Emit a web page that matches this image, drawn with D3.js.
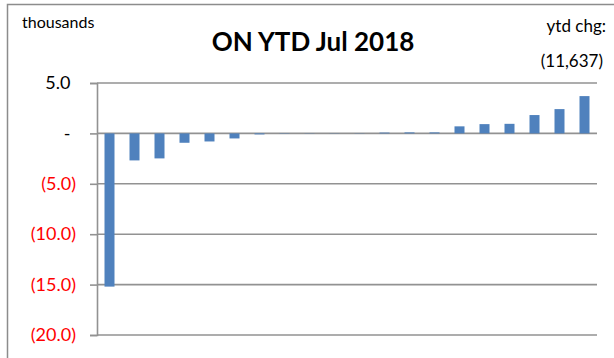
<!DOCTYPE html>
<html>
<head>
<meta charset="utf-8">
<script src="https://cdn.jsdelivr.net/npm/d3@7"></script>
<style>
  html, body { margin: 0; padding: 0; background: #fff; }
  svg { display: block; }
  text { font-family: Lato, "Open Sans", sans-serif; }
</style>
</head>
<body>
<svg id="chart" width="614" height="358"></svg>
<script>
// ---- data ----
const categories = ["c1","c2","c3","c4","c5","c6","c7","c8","c9","c10",
                    "c11","c12","c13","c14","c15","c16","c17","c18","c19","c20"];
const values = [-15.2, -2.68, -2.48, -0.93, -0.80, -0.50, -0.10, -0.03, -0.02, -0.02,
                 0.02, 0.08, 0.10, 0.10, 0.70, 0.92, 0.95, 1.82, 2.41, 3.70];
const yTicks = [5, 0, -5, -10, -15, -20];
const titleText = "ON YTD Jul 2018";
const unitText = "thousands";
const ytdLabel = "ytd chg:";
const ytdValue = "(11,637)";

// ---- layout ----
const svg = d3.select("#chart");
const plot = { left: 97, right: 597, top: 83, bottom: 335 };

// outer chart border
svg.append("rect")
  .attr("x", 7.5).attr("y", 4.5)
  .attr("width", 620).attr("height", 370)
  .attr("fill", "none").attr("stroke", "#8c8c8c").attr("stroke-width", 1.5);

const x = d3.scaleBand()
  .domain(categories)
  .range([plot.left, plot.right])
  .paddingInner(0.6)
  .paddingOuter(0.3);

const y = d3.scaleLinear()
  .domain([-20, 5])
  .range([plot.bottom, plot.top]);

// gridlines
svg.append("g")
  .selectAll("line")
  .data(yTicks)
  .join("line")
  .attr("x1", plot.left).attr("x2", plot.right)
  .attr("y1", d => y(d)).attr("y2", d => y(d))
  .attr("stroke", "#929292").attr("stroke-width", 1.6);

// y axis
const fmt = d => d === 0 ? "-" : (d < 0 ? "(" + Math.abs(d).toFixed(1) + ")" : d.toFixed(1));
const yAxis = svg.append("g")
  .attr("transform", `translate(${plot.left},0)`)
  .call(d3.axisLeft(y).tickValues(yTicks).tickFormat(fmt).tickSize(7).tickPadding(14));
yAxis.select(".domain").attr("stroke", "#929292").attr("stroke-width", 1.6);
yAxis.selectAll(".tick line").attr("stroke", "#929292").attr("stroke-width", 1.6);
yAxis.selectAll(".tick text")
  .attr("font-family", "Lato, sans-serif")
  .attr("font-size", 18)
  .attr("fill", d => d < 0 ? "#ff0000" : "#000")
  .attr("dx", d => d < 0 ? 0 : -5.5);

// bars
svg.append("g")
  .selectAll("rect")
  .data(values.map((v, i) => ({ c: categories[i], v })))
  .join("rect")
  .attr("x", d => x(d.c))
  .attr("width", x.bandwidth())
  .attr("y", d => y(Math.max(0, d.v)))
  .attr("height", d => Math.abs(y(d.v) - y(0)))
  .attr("fill", "#4f81bd");

// texts
svg.append("text")
  .attr("x", 313).attr("y", 51)
  .attr("text-anchor", "middle")
  .attr("font-size", 26).attr("font-weight", "bold")
  .text(titleText);

svg.append("text")
  .attr("x", 22).attr("y", 28)
  .attr("font-size", 16)
  .text(unitText);

svg.append("text")
  .attr("x", 606).attr("y", 32)
  .attr("text-anchor", "end")
  .attr("font-size", 17)
  .text(ytdLabel);

svg.append("text")
  .attr("x", 603).attr("y", 67)
  .attr("text-anchor", "end")
  .attr("font-size", 17)
  .text(ytdValue);
</script>
</body>
</html>
